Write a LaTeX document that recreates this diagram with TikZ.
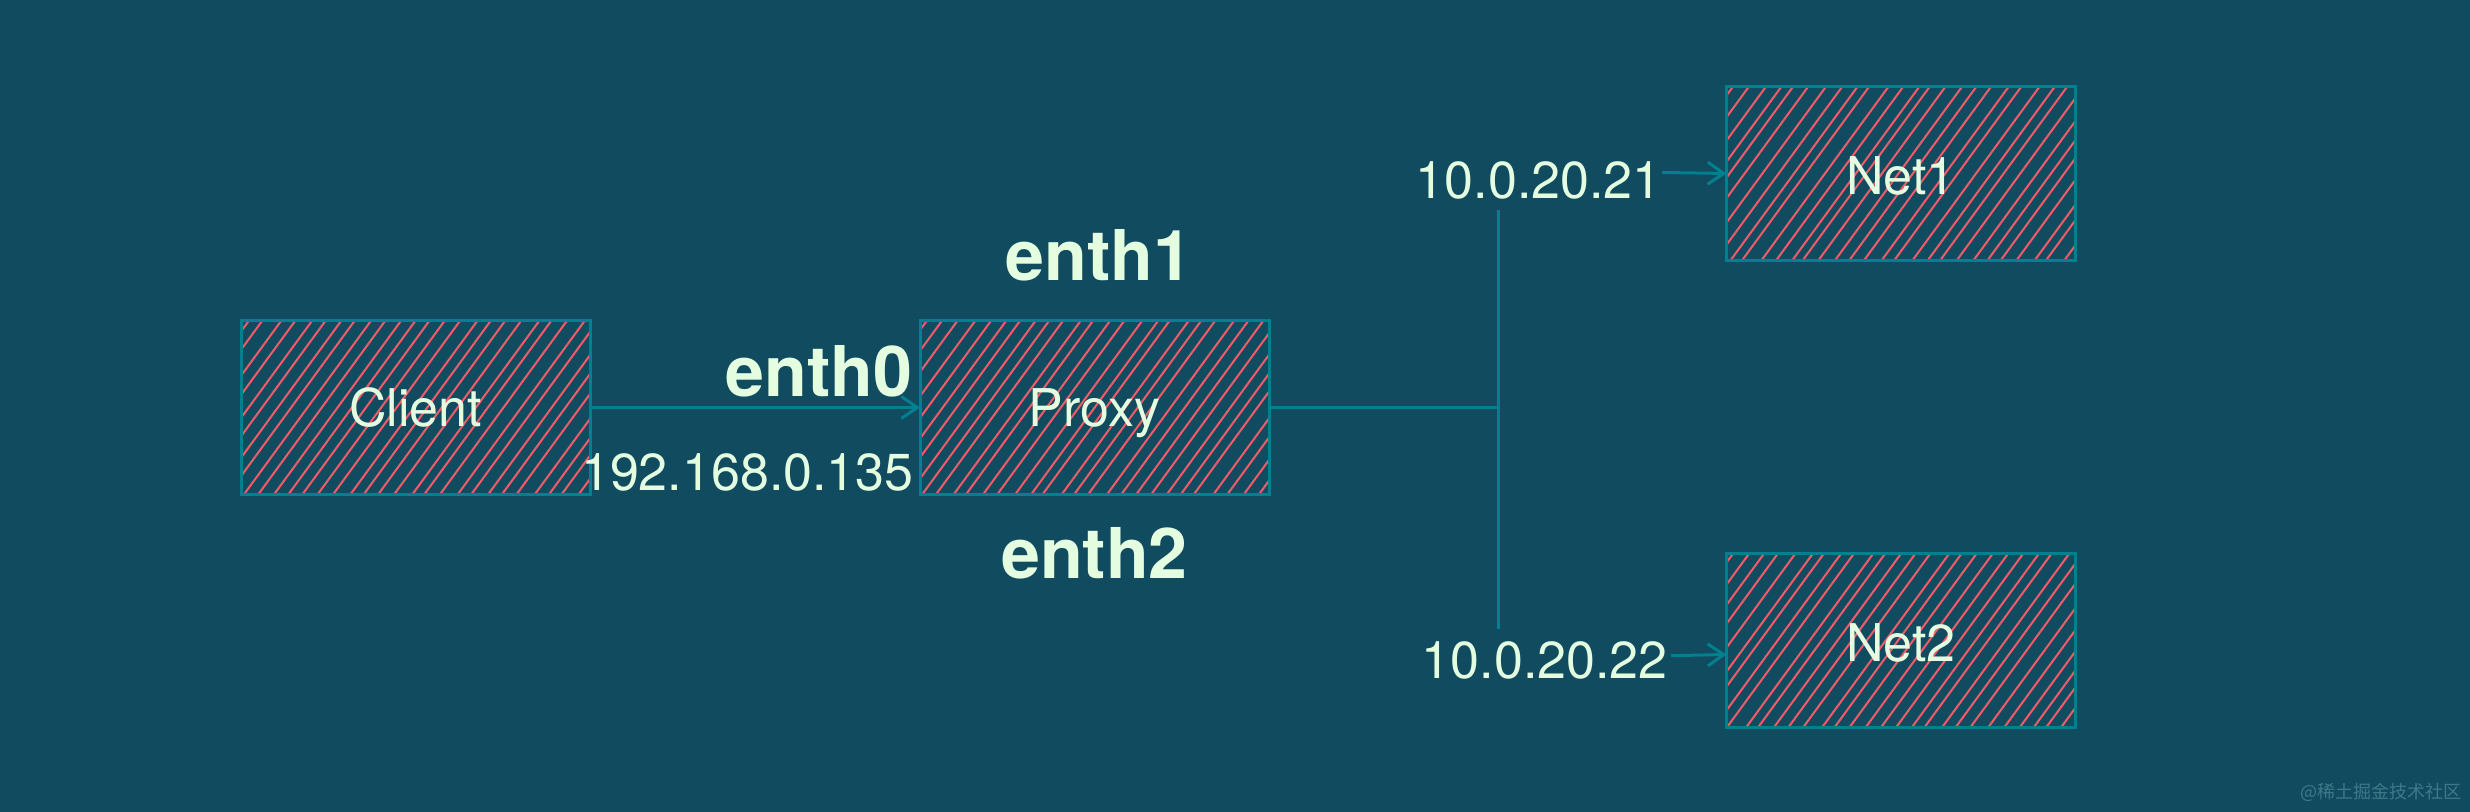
\documentclass[tikz,border=0pt]{standalone}
\usepackage{fontspec}
\setmainfont{TeX Gyre Heros}
\newfontfamily\cjk{Noto Sans CJK SC}
\usepackage{tikz}
\usetikzlibrary{arrows.meta,positioning}
\definecolor{bg}{RGB}{17, 75, 95}
\definecolor{teal}{RGB}{2, 128, 144}
\definecolor{mint}{RGB}{228, 253, 225}
\definecolor{coral}{RGB}{244, 91, 105}
\definecolor{mark}{RGB}{62, 120, 138}
\tikzstyle{hatchbox} = [rectangle, draw=teal, line width=1.5pt, outer sep=0pt, text=mint, font=\fontsize{26}{30}\selectfont, minimum width=174.5pt, minimum height=87pt, text height=19pt, text depth=0pt,
  path picture={
    \foreach \i in {-11,...,23} {
      \pgfmathsetmacro{\jit}{\i*7.6+rnd*2.5}
      \draw[coral, line width=1pt] ([xshift=\jit pt]path picture bounding box.south west) -- ++(64pt,87.5pt);
    }
  }]
\tikzstyle{iface} = [inner sep=0pt, text=mint, font=\fontsize{35}{40}\selectfont\bfseries]
\tikzstyle{addr} = [inner sep=0pt, text=mint, font=\fontsize{26}{30}\selectfont]
\tikzstyle{tedge}  = [draw=teal, line width=1.5pt, >={Straight Barb[length=8pt,width=11pt]}, ->]
\tikzstyle{tline}  = [draw=teal, line width=1.5pt]
\begin{document}
\begin{tikzpicture}[auto]
\pgfmathsetseed{7}

% background
\fill[bg] (0,0) rectangle (1235pt,406pt);

% boxes
\node[hatchbox] (client) at (207.75pt,202.25pt) {Client};
\node[hatchbox, right=165pt of client] (proxy) {Proxy};
\node[hatchbox, above right=30pt and 228.7pt of proxy, text height=21pt] (net1) {Net1};
\node[hatchbox, below=146.5pt of net1, text height=21pt] (net2) {Net2};

% interface names
\node[iface, above left=5pt and 3.7pt of proxy.west] (enth0) {enth0};
\node[iface, above=19.5pt of proxy, xshift=2.4pt] (enth1) {enth1};
\node[iface, below=16.5pt of proxy] (enth2) {enth2};

% addresses
\node[addr, below left=23pt and 3pt of proxy.west] (addr0) {192.168.0.135};
\node[addr, left=32.2pt of net1, yshift=-3.5pt] (addr1) {10.0.20.21};
\node[addr, left=29.2pt of net2, yshift=-10pt] (addr2) {10.0.20.22};

% trunk
\coordinate[right=114.5pt of proxy.east] (junction);
\coordinate[above=98.5pt of junction] (trunktop);
\coordinate[below=111pt of junction] (trunkbottom);

% watermark
\node[anchor=east, inner sep=0pt, text=mark, font=\fontsize{9}{11}\selectfont\cjk] (mark) at (1231pt,10pt) {@稀土掘金技术社区};

%edges
\path[tedge] (client) -- (proxy);
\path[tline] (proxy) -- (junction);
\path[tline] (trunktop) -- (trunkbottom);
\path[tedge] ([yshift=4pt]addr1.east) -- (net1.west);
\path[tedge] ([xshift=1.5pt,yshift=2.4pt]addr2.east) -- ([yshift=-7pt]net2.west);

\end{tikzpicture}
\end{document}
